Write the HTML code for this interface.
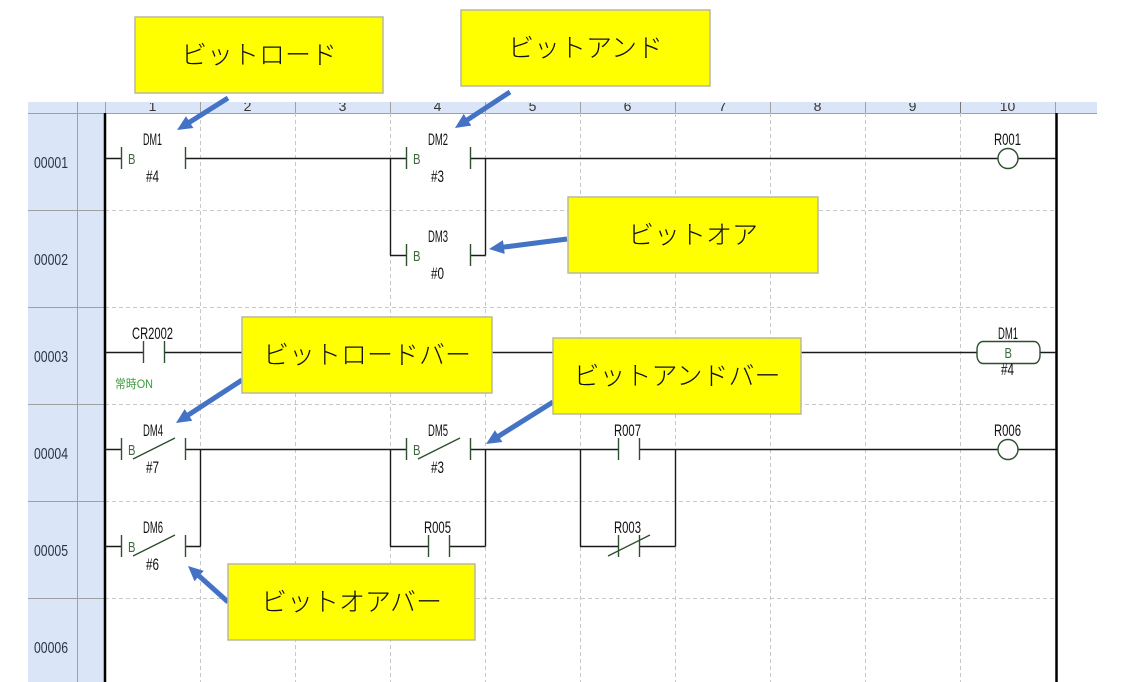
<!DOCTYPE html>
<html><head><meta charset="utf-8"><style>
html,body{margin:0;padding:0;background:#fff;}
svg{display:block;}
.lbl{font-family:"Liberation Sans",sans-serif;font-size:16.5px;fill:#111;}
.rn{font-family:"Liberation Sans",sans-serif;font-size:15.5px;fill:#2b3344;}
.hd{font-family:"Liberation Sans",sans-serif;font-size:14px;fill:#333;}
.bb{font-family:"Liberation Sans",sans-serif;font-size:14.5px;fill:#3d6b3d;}
.jp{font-family:"Liberation Sans","Noto Sans CJK JP",sans-serif;font-size:26px;font-weight:300;fill:#111;}
.on{font-family:"Liberation Sans","Noto Sans CJK JP",sans-serif;font-size:12px;fill:#3a9a3a;}
</style></head><body>
<svg width="1146" height="682" viewBox="0 0 1146 682" xmlns="http://www.w3.org/2000/svg">
<defs>
<clipPath id="hc"><rect x="28" y="103" width="1069" height="10"/></clipPath>
<marker id="ah" markerWidth="16" markerHeight="14" refX="1" refY="7" orient="auto" markerUnits="userSpaceOnUse"><path d="M0,0 L15,7 L0,14 z" fill="#4472c4"/></marker>
</defs>
<rect width="1146" height="682" fill="#fff"/>
<!-- left band -->
<rect x="28" y="102" width="77" height="580" fill="#dae6f7"/>
<!-- header band -->
<rect x="28" y="102" width="1069" height="11" fill="#dae6f7"/>
<g stroke="#a0a0a0" stroke-width="1">
<line x1="77.5" y1="102" x2="77.5" y2="682"/>
<line x1="28" y1="113.5" x2="1097" y2="113.5"/>
<line x1="28" y1="210.5" x2="105" y2="210.5"/>
<line x1="28" y1="307.5" x2="105" y2="307.5"/>
<line x1="28" y1="404.5" x2="105" y2="404.5"/>
<line x1="28" y1="501.5" x2="105" y2="501.5"/>
<line x1="28" y1="598.5" x2="105" y2="598.5"/>
<line x1="105.5" y1="102" x2="105.5" y2="113"/>
<line x1="200.5" y1="102" x2="200.5" y2="113"/>
<line x1="295.5" y1="102" x2="295.5" y2="113"/>
<line x1="390.5" y1="102" x2="390.5" y2="113"/>
<line x1="485.5" y1="102" x2="485.5" y2="113"/>
<line x1="580.5" y1="102" x2="580.5" y2="113"/>
<line x1="675.5" y1="102" x2="675.5" y2="113"/>
<line x1="770.5" y1="102" x2="770.5" y2="113"/>
<line x1="865.5" y1="102" x2="865.5" y2="113"/>
<line x1="960.5" y1="102" x2="960.5" y2="113" stroke="#777"/>
<line x1="1055.5" y1="102" x2="1055.5" y2="113"/>
</g>
<g clip-path="url(#hc)" class="hd" text-anchor="middle">
<text x="152.5" y="111">1</text><text x="247.5" y="111">2</text><text x="342.5" y="111">3</text>
<text x="437.5" y="111">4</text><text x="532.5" y="111">5</text><text x="627.5" y="111">6</text>
<text x="722.5" y="111">7</text><text x="817.5" y="111">8</text><text x="912.5" y="111">9</text>
<text x="1007.5" y="111">10</text>
</g>
<!-- row numbers -->
<g class="rn">
<text x="34" y="168" textLength="34" lengthAdjust="spacingAndGlyphs">00001</text>
<text x="34" y="265" textLength="34" lengthAdjust="spacingAndGlyphs">00002</text>
<text x="34" y="362" textLength="34" lengthAdjust="spacingAndGlyphs">00003</text>
<text x="34" y="459" textLength="34" lengthAdjust="spacingAndGlyphs">00004</text>
<text x="34" y="556" textLength="34" lengthAdjust="spacingAndGlyphs">00005</text>
<text x="34" y="653" textLength="34" lengthAdjust="spacingAndGlyphs">00006</text>
</g>
<!-- dashed grid -->
<g stroke="#c8c8c8" stroke-width="1" stroke-dasharray="4,3">
<line x1="200.5" y1="113" x2="200.5" y2="682"/>
<line x1="295.5" y1="113" x2="295.5" y2="682"/>
<line x1="390.5" y1="113" x2="390.5" y2="682"/>
<line x1="485.5" y1="113" x2="485.5" y2="682"/>
<line x1="580.5" y1="113" x2="580.5" y2="682"/>
<line x1="675.5" y1="113" x2="675.5" y2="682"/>
<line x1="770.5" y1="113" x2="770.5" y2="682"/>
<line x1="865.5" y1="113" x2="865.5" y2="682"/>
<line x1="960.5" y1="113" x2="960.5" y2="682"/>
<line x1="105" y1="210.5" x2="1055" y2="210.5"/>
<line x1="105" y1="307.5" x2="1055" y2="307.5"/>
<line x1="105" y1="404.5" x2="1055" y2="404.5"/>
<line x1="105" y1="501.5" x2="1055" y2="501.5"/>
<line x1="105" y1="598.5" x2="1055" y2="598.5"/>
</g>
<!-- buses -->
<line x1="105" y1="113" x2="105" y2="682" stroke="#000" stroke-width="2.5"/>
<line x1="1056.5" y1="113" x2="1056.5" y2="682" stroke="#000" stroke-width="2.5"/>
<!-- wires -->
<g stroke="#1a1a1a" stroke-width="1.4" fill="none">
<path d="M105,158.5H121 M185,158.5H406 M470,158.5H998 M1018,158.5H1056"/>
<path d="M390.5,158.5V255.5 M485.5,158.5V255.5"/>
<path d="M390,255.5H406 M470,255.5H485.5"/>
<path d="M105,352.5H143 M164,352.5H977 M1040,352.5H1056"/>
<path d="M105,449.5H121 M185,449.5H406 M470,449.5H618 M639,449.5H998 M1018,449.5H1056"/>
<path d="M200.5,449.5V546.5 M390.5,449.5V546.5 M485.5,449.5V546.5 M580.5,449.5V546.5 M675.5,449.5V546.5"/>
<path d="M105,546.5H121 M185,546.5H200.5 M390,546.5H428 M449,546.5H485.5 M580,546.5H618 M639,546.5H675.5"/>
</g>
<!-- contacts bars -->
<g stroke="#2e4f2e" stroke-width="1.4" fill="none">
<path d="M121.5,147V169 M185.5,147V169"/>
<path d="M406.5,147V169 M470.5,147V169"/>
<path d="M406.5,244V266 M470.5,244V266"/>
<path d="M143.5,341V363 M164.5,341V363"/>
<path d="M121.5,438V460 M185.5,438V460 M133,459 L175,438"/>
<path d="M406.5,438V460 M470.5,438V460 M418,459 L460,438"/>
<path d="M618.5,438V460 M639.5,438V460"/>
<path d="M121.5,535V557 M185.5,535V557 M133,556 L175,535"/>
<path d="M428.5,535V557 M449.5,535V557"/>
<path d="M618.5,535V557 M639.5,535V557 M608,556 L650,535"/>
<circle cx="1008" cy="158.5" r="10"/>
<circle cx="1008" cy="449.5" r="10"/>
<rect x="977" y="341.5" width="63" height="22" rx="6" ry="8"/>
</g>
<!-- B letters -->
<g class="bb">
<text x="128" y="164" textLength="7.5" lengthAdjust="spacingAndGlyphs">B</text>
<text x="413" y="164" textLength="7.5" lengthAdjust="spacingAndGlyphs">B</text>
<text x="413" y="261" textLength="7.5" lengthAdjust="spacingAndGlyphs">B</text>
<text x="128" y="455" textLength="7.5" lengthAdjust="spacingAndGlyphs">B</text>
<text x="413" y="455" textLength="7.5" lengthAdjust="spacingAndGlyphs">B</text>
<text x="128" y="552" textLength="7.5" lengthAdjust="spacingAndGlyphs">B</text>
<text x="1004.5" y="358" textLength="7.5" lengthAdjust="spacingAndGlyphs">B</text>
</g>
<!-- labels -->
<g class="lbl">
<text x="143" y="145" textLength="19" lengthAdjust="spacingAndGlyphs">DM1</text>
<text x="146" y="182" textLength="13" lengthAdjust="spacingAndGlyphs">#4</text>
<text x="428" y="145" textLength="20" lengthAdjust="spacingAndGlyphs">DM2</text>
<text x="431" y="182" textLength="13" lengthAdjust="spacingAndGlyphs">#3</text>
<text x="428" y="242" textLength="20" lengthAdjust="spacingAndGlyphs">DM3</text>
<text x="431" y="279" textLength="13" lengthAdjust="spacingAndGlyphs">#0</text>
<text x="994" y="145" textLength="27" lengthAdjust="spacingAndGlyphs">R001</text>
<text x="132" y="339" textLength="41" lengthAdjust="spacingAndGlyphs">CR2002</text>
<text x="998" y="339" textLength="20" lengthAdjust="spacingAndGlyphs">DM1</text>
<text x="1001" y="375" textLength="13" lengthAdjust="spacingAndGlyphs">#4</text>
<text x="143" y="436" textLength="20" lengthAdjust="spacingAndGlyphs">DM4</text>
<text x="146" y="473" textLength="13" lengthAdjust="spacingAndGlyphs">#7</text>
<text x="428" y="436" textLength="20" lengthAdjust="spacingAndGlyphs">DM5</text>
<text x="431" y="473" textLength="13" lengthAdjust="spacingAndGlyphs">#3</text>
<text x="614" y="436" textLength="27" lengthAdjust="spacingAndGlyphs">R007</text>
<text x="994" y="436" textLength="27" lengthAdjust="spacingAndGlyphs">R006</text>
<text x="143" y="533" textLength="20" lengthAdjust="spacingAndGlyphs">DM6</text>
<text x="146" y="570" textLength="13" lengthAdjust="spacingAndGlyphs">#6</text>
<text x="424" y="533" textLength="27" lengthAdjust="spacingAndGlyphs">R005</text>
<text x="614" y="533" textLength="27" lengthAdjust="spacingAndGlyphs">R003</text>
</g>
<text class="on" x="115" y="388" textLength="38" lengthAdjust="spacingAndGlyphs">常時ON</text>
<!-- arrows -->
<g stroke="#4472c4" stroke-width="5" marker-end="url(#ah)">
<line x1="228" y1="98" x2="188.9" y2="122.6"/>
<line x1="510" y1="92" x2="466.7" y2="120.3"/>
<line x1="567" y1="239" x2="502.9" y2="247.2"/>
<line x1="242" y1="380" x2="187.7" y2="415.4"/>
<line x1="553" y1="402" x2="497.9" y2="436.6"/>
<line x1="228" y1="602" x2="198.4" y2="575.4"/>
</g>
<!-- callouts -->
<g fill="#ffff00" stroke="#b8b8a0" stroke-width="1.5">
<rect x="135" y="17" width="248" height="76"/>
<rect x="461" y="10" width="249" height="76"/>
<rect x="568" y="197" width="250" height="76"/>
<rect x="242" y="317" width="250" height="76"/>
<rect x="553" y="338" width="248" height="76"/>
<rect x="228" y="564" width="247" height="76"/>
</g>
<g class="jp" text-anchor="middle">
<text x="259" y="64">ビットロード</text>
<text x="585.5" y="57">ビットアンド</text>
<text x="693" y="244">ビットオア</text>
<text x="367" y="364">ビットロードバー</text>
<text x="677" y="385">ビットアンドバー</text>
<text x="351.5" y="611">ビットオアバー</text>
</g>
</svg>
</body></html>
